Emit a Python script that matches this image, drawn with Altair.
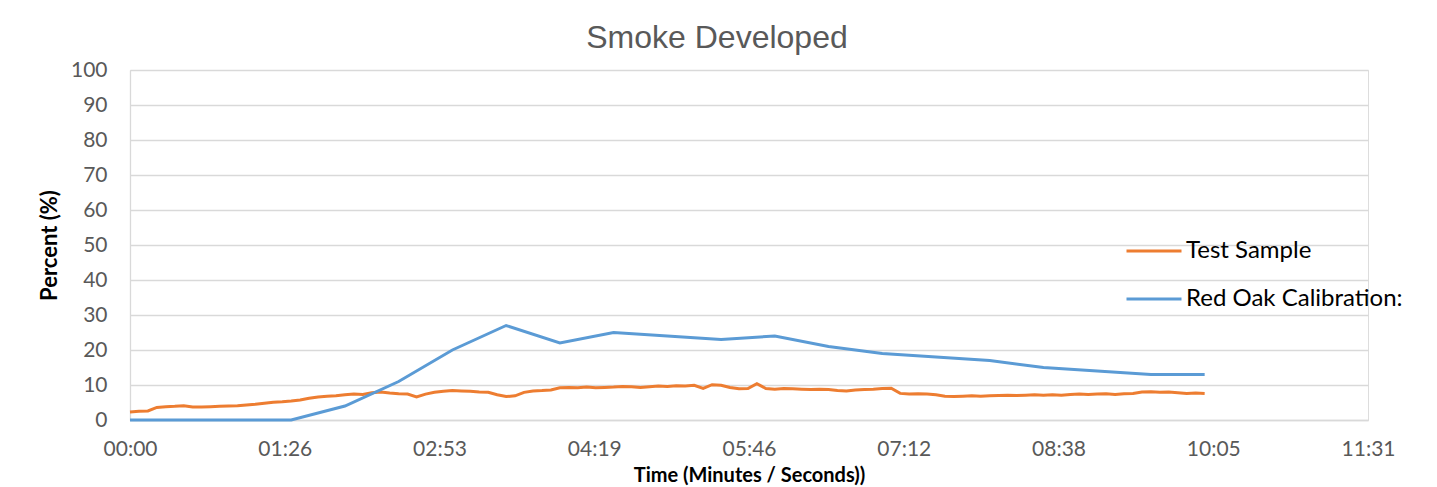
import altair as alt
import pandas as pd

SERIES = ["Test Sample", "Red Oak Calibration:"]
COLORS = ["#ED7D31", "#5B9BD5"]

# Red Oak calibration curve (seconds, percent)
OAK_T = [0, 30, 60, 90, 120, 150, 180, 210, 240, 270, 300, 330, 360, 390, 420, 450, 480, 510, 540, 570, 600]
OAK_V = [0, 0, 0, 0, 4, 11, 20, 27, 22, 25, 24, 23, 24, 21, 19, 18, 17, 15, 14, 13, 13]

# Test sample (seconds, percent), read every 5 s
TEST_T = list(range(0, 605, 5))
TEST_V = [
    2.3, 2.5, 2.6, 3.6, 3.8, 3.9, 4.1, 3.7, 3.7, 3.8,
    3.9, 4.0, 4.1, 4.3, 4.5, 4.8, 5.1, 5.2, 5.4, 5.7,
    6.2, 6.6, 6.8, 6.9, 7.2, 7.4, 7.3, 7.8, 8.0, 7.7,
    7.5, 7.4, 6.6, 7.4, 7.9, 8.2, 8.4, 8.3, 8.2, 8.0,
    7.9, 7.2, 6.7, 6.9, 7.9, 8.3, 8.4, 8.6, 9.2, 9.3,
    9.2, 9.4, 9.2, 9.3, 9.4, 9.6, 9.5, 9.3, 9.5, 9.7,
    9.6, 9.8, 9.7, 9.9, 9.0, 10.1, 9.9, 9.3, 8.9, 9.0,
    10.4, 9.0, 8.8, 9.0, 8.9, 8.8, 8.7, 8.8, 8.7, 8.4,
    8.3, 8.6, 8.7, 8.8, 9.0, 9.1, 7.6, 7.4, 7.5, 7.4,
    7.2, 6.8, 6.7, 6.8, 6.9, 6.8, 6.9, 7.0, 7.1, 7.0,
    7.1, 7.2, 7.1, 7.2, 7.1, 7.3, 7.4, 7.3, 7.4, 7.5,
    7.3, 7.5, 7.6, 8.0, 8.1, 7.9, 8.0, 7.8, 7.6, 7.7,
    7.6,
]

X_TICKS = [0, 86.4, 172.8, 259.2, 345.6, 432.0, 518.4, 604.8, 691.2]
X_TICK_LABELS = ["00:00", "01:26", "02:53", "04:19", "05:46", "07:12", "08:38", "10:05", "11:31"]
Y_TICKS = [0, 10, 20, 30, 40, 50, 60, 70, 80, 90, 100]

df = pd.concat([
    pd.DataFrame({"t": TEST_T, "v": TEST_V, "series": SERIES[0]}),
    pd.DataFrame({"t": OAK_T, "v": OAK_V, "series": SERIES[1]}),
])

label_expr = "[" + ",".join(f"'{s}'" for s in X_TICK_LABELS) + "][round(datum.value / 86.4)]"

GRID = "#d9d9d9"
LABEL_COLOR = "#595959"

chart = alt.Chart(df).mark_line(strokeWidth=3).encode(
    x=alt.X("t:Q",
            scale=alt.Scale(domain=[0, 691.2], nice=False, zero=False),
            axis=alt.Axis(values=X_TICKS, labelExpr=label_expr,
                          title="Time (Minutes / Seconds))",
                          grid=False, ticks=False, domainColor=GRID, domainWidth=1.3,
                          labelFont="Lato", labelFontSize=21, labelColor=LABEL_COLOR,
                          labelPadding=18, labelFlush=False, labelOverlap=False,
                          titleFont="Lato", titleFontWeight="bold", titleFontSize=20,
                          titleColor="black", titleX=619, titleY=61,
                          titleBaseline="alphabetic", titleAnchor="middle")),
    y=alt.Y("v:Q",
            scale=alt.Scale(domain=[0, 100], nice=False),
            axis=alt.Axis(values=Y_TICKS, title="Percent (%)",
                          grid=True, gridColor=GRID, gridWidth=1.3,
                          ticks=False, domainColor=GRID, domainWidth=1.3,
                          labelFont="Lato", labelFontSize=21, labelColor=LABEL_COLOR,
                          labelPadding=23,
                          titleFont="Lato", titleFontWeight="bold", titleFontSize=22,
                          titleColor="black", titleX=-74, titleY=175,
                          titleBaseline="alphabetic", titleAnchor="middle")),
    color=alt.Color("series:N",
                    scale=alt.Scale(domain=SERIES, range=COLORS),
                    sort=SERIES,
                    legend=alt.Legend(title=None, orient="none", legendX=995, legendY=169,
                                      symbolType="stroke", symbolSize=3025,
                                      symbolStrokeWidth=3, clipHeight=24, rowPadding=24,
                                      labelFont="Lato", labelFontSize=24, labelColor="black",
                                      labelOffset=3, labelLimit=0, padding=0)),
).properties(
    width=1238,
    height=350,
    title=alt.TitleParams("Smoke Developed", font="Liberation Sans", fontSize=32,
                          fontWeight="normal", color=LABEL_COLOR, anchor="middle",
                          dx=-32, offset=4),
    autosize=alt.AutoSizeParams(type="none"),
    padding={"left": 122, "top": 62, "right": 60, "bottom": 66},
).configure_view(stroke=None).configure(background="white")

chart.save("out.html", embed_options={"renderer": "svg", "actions": False})
